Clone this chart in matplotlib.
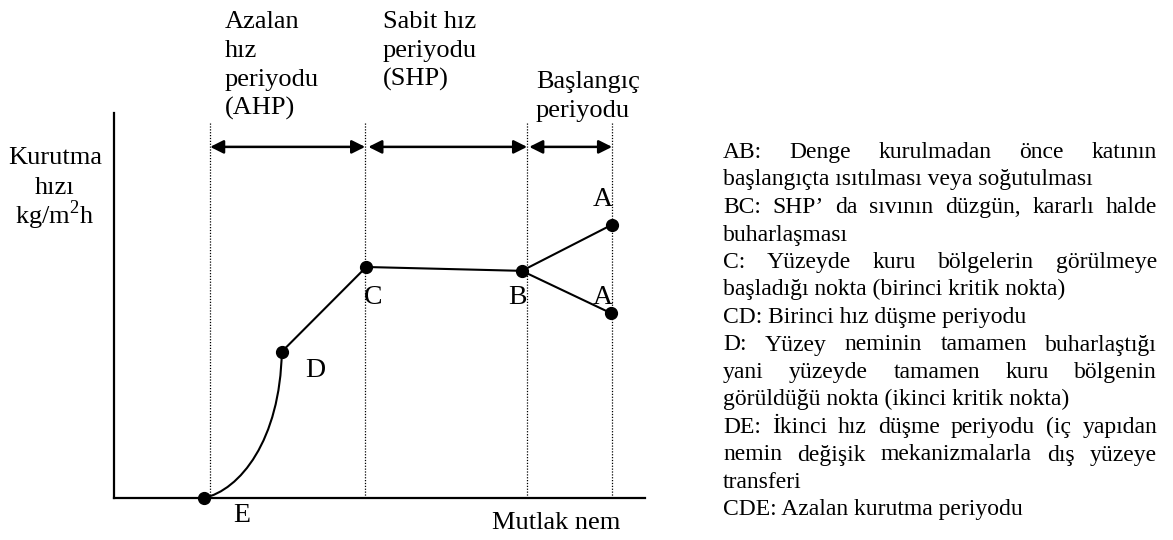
import matplotlib
matplotlib.use("Agg")
import matplotlib.pyplot as plt
from matplotlib.path import Path
from matplotlib.patches import PathPatch

plt.rcParams['font.family'] = ['Liberation Serif', 'DejaVu Serif']
plt.rcParams['mathtext.fontset'] = 'custom'
plt.rcParams['mathtext.rm'] = 'Liberation Serif'

W, H = 1173, 540

# --- drying curve (x = absolute moisture, y = drying rate, arbitrary units) ---
pt_names = ["E", "D", "C", "B", "A", "A"]
pt_x = [1.69, 3.16, 4.75, 7.68, 9.38, 9.36]
pt_y = [0.00, 0.38, 0.60, 0.59, 0.71, 0.48]

# E -> D is a curved segment (bezier control points)
ed_ctrl_x = [2.37, 3.13]
ed_ctrl_y = [0.02, 0.15]

# where the point letters sit
lab_x = [2.41, 3.79, 4.88, 7.59, 9.21, 9.21]
lab_y = [-0.045, 0.33, 0.52, 0.52, 0.775, 0.52]

# period boundaries and the arrows between them
dividers = [1.81, 4.73, 7.78, 9.38]
arrow_from = [1.81, 4.79, 7.82]
arrow_to = [4.73, 7.78, 9.38]
arrow_y = 0.912

period_titles = [
    ["Azalan", "hız", "periyodu", "(AHP)"],
    ["Sabit hız", "periyodu", "(SHP)"],
    ["Başlangıç", "periyodu"],
]
title_left_px = [225, 383, 536]
title_top_px = [28, 28, 88]

ylabel_lines = ["Kurutma", "hızı", r"kg/m$^{\mathregular{2}}$h"]

notes = [
    ("AB: Denge kurulmadan önce katının", True),
    ("başlangıçta ısıtılması veya soğutulması", False),
    ("BC: SHP’ da sıvının düzgün, kararlı halde", True),
    ("buharlaşması", False),
    ("C: Yüzeyde kuru bölgelerin görülmeye", True),
    ("başladığı nokta (birinci kritik nokta)", False),
    ("CD: Birinci hız düşme periyodu", False),
    ("D: Yüzey neminin tamamen buharlaştığı", True),
    ("yani yüzeyde tamamen kuru bölgenin", True),
    ("görüldüğü nokta (ikinci kritik nokta)", False),
    ("DE: İkinci hız düşme periyodu (iç yapıdan", True),
    ("nemin değişik mekanizmalarla dış yüzeye", True),
    ("transferi", False),
    ("CDE: Azalan kurutma periyodu", False),
]


def fx(px):
    return px / W


def fy(py):
    return 1 - py / H


fig = plt.figure(figsize=(W / 100, H / 100), dpi=100)
ax = fig.add_axes([fx(114), fy(498), (645 - 114) / W, (498 - 113) / H])
ax.set_xlim(0, 10)
ax.set_ylim(0, 1)
ax.set_xticks([])
ax.set_yticks([])
for side in ["top", "right"]:
    ax.spines[side].set_visible(False)
for side in ["left", "bottom"]:
    ax.spines[side].set_linewidth(1.6)

# dotted period boundaries
for x in dividers:
    ax.plot([x, x], [0, 0.975], color="black", lw=0.9, ls=(0, (1, 1.3)))

# double arrows
for x0, x1 in zip(arrow_from, arrow_to):
    ax.annotate("", xy=(x1, arrow_y), xytext=(x0, arrow_y),
                arrowprops=dict(arrowstyle="<|-|>", color="black", lw=1.8,
                                mutation_scale=20, shrinkA=0, shrinkB=0))

# E -> D curve
verts = [(pt_x[0], pt_y[0]), (ed_ctrl_x[0], ed_ctrl_y[0]),
         (ed_ctrl_x[1], ed_ctrl_y[1]), (pt_x[1], pt_y[1])]
codes = [Path.MOVETO, Path.CURVE4, Path.CURVE4, Path.CURVE4]
ax.add_patch(PathPatch(Path(verts, codes), fill=False, lw=1.5, color="black"))

# D - C - B and the two branches to A
ax.plot(pt_x[1:4], pt_y[1:4], color="black", lw=1.5)
ax.plot([pt_x[3], pt_x[4]], [pt_y[3], pt_y[4]], color="black", lw=1.5)
ax.plot([pt_x[3], pt_x[5]], [pt_y[3], pt_y[5]], color="black", lw=1.5)
ax.plot(pt_x, pt_y, "o", color="black", ms=8.5, clip_on=False, zorder=5)

for name, x, y in zip(pt_names, lab_x, lab_y):
    ax.text(x, y, name, fontsize=20, ha="center", va="center", clip_on=False)

ax.text(8.32, -0.065, "Mutlak nem", fontsize=19, ha="center", va="center",
        clip_on=False)

# period titles above the chart
for lines, left, top in zip(period_titles, title_left_px, title_top_px):
    for i, line in enumerate(lines):
        fig.text(fx(left), fy(top + i * 29), line, fontsize=19, va="baseline")

# y axis title
for i, line in enumerate(ylabel_lines):
    fig.text(fx(55), fy(164 + i * 30), line, fontsize=19, ha="center",
             va="baseline")

# explanation block on the right, justified like the source document
renderer = fig.canvas.get_renderer()
left_px, right_px = 723, 1157
for i, (line, justify) in enumerate(notes):
    y = fy(158 + i * 27.5)
    if not justify:
        fig.text(fx(left_px), y, line, fontsize=17, va="baseline")
        continue
    words = line.split(" ")
    texts = [fig.text(0, y, w, fontsize=17, va="baseline") for w in words]
    widths = [t.get_window_extent(renderer).width for t in texts]
    gap = (right_px - left_px - sum(widths)) / (len(words) - 1)
    x = left_px
    for t, w in zip(texts, widths):
        t.set_x(fx(x))
        x += w + gap

fig.savefig("out.png", dpi=100)
